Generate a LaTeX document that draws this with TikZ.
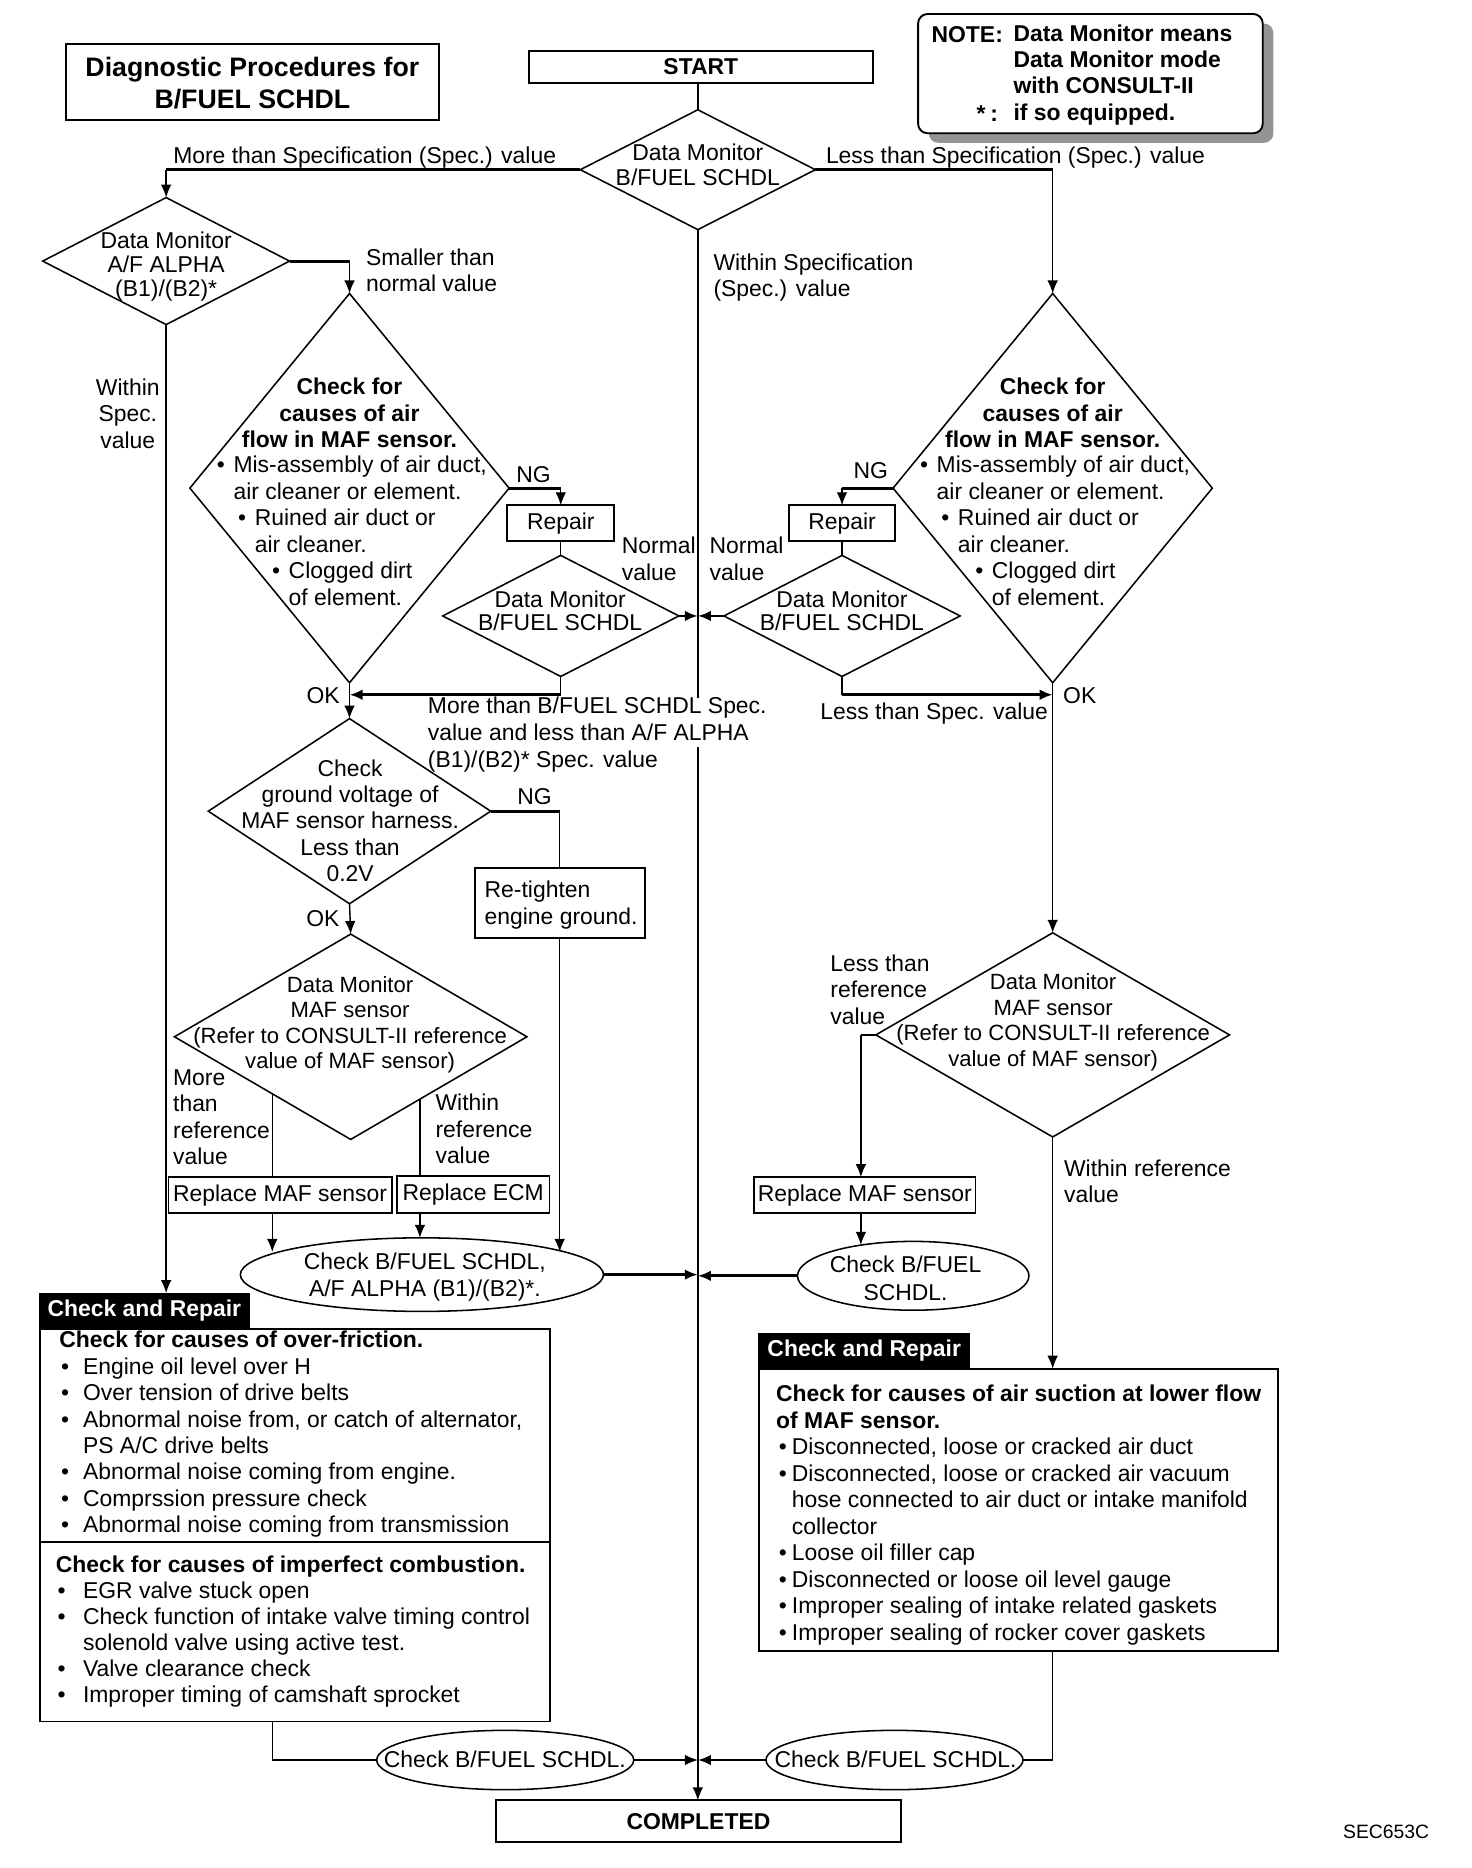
\documentclass[tikz,border=0pt]{standalone}
\usepackage{fontspec}
\setmainfont{Liberation Sans}
\usetikzlibrary{shapes.geometric,arrows.meta,calc}
\newcommand\myfs{\fontsize{19.3}{22.3}\selectfont}
\tikzset{
 shp/.style={draw,line width=1.3pt,inner sep=0pt,outer sep=0pt},
 dia/.style={shp,diamond},
 ell/.style={shp,ellipse},
 bx/.style={draw,line width=1.6pt,inner sep=0pt,outer sep=0pt,font=\myfs},
 tab/.style={fill=black,inner sep=0pt,outer sep=0pt,text=white,font=\bfseries\myfs},
 txt/.style={inner sep=0pt,outer sep=0pt,font=\myfs,align=center,execute at begin node=\strut,execute at end node=\strut},
 txl/.style={txt,align=left,anchor=west},
 vl/.style={line width=1.2pt},
 hl/.style={line width=2.4pt},
 arr/.style={-{Latex[length=11pt,width=9pt]}},
}
\begin{document}
\begin{tikzpicture}[x=1pt,y=-1pt]
\fill[white] (0,0) rectangle (1240,1574);
\useasboundingbox (0,0) rectangle (1240,1574);

% title, start, note
\node[bx,minimum width=314.6pt,minimum height=63.7pt] (title) at (212.7,69.2) {};
\node[txt,font=\bfseries\fontsize{22.5}{26.6}\selectfont] (titlet) at (212.7,73.6) {Diagnostic Procedures for\\B/FUEL SCHDL};
\node[bx,minimum width=290pt,minimum height=27.5pt,font=\bfseries\myfs] (start) at (590.5,56.5) {START};
\node[fill=black!42,rounded corners=8pt,inner sep=0pt,minimum width=290.4pt,minimum height=100.5pt] (noteshadow) at (927.8,70.1) {};
\node[draw,fill=white,line width=1.6pt,rounded corners=8pt,inner sep=0pt,minimum width=290.4pt,minimum height=100.5pt] (note) at (918.8,62.05) {};
\node[txl,font=\bfseries\myfs] (n1) at (785,31) {NOTE:};
\node[txl,font=\bfseries\myfs] (n2) at (854,64.4) {Data Monitor means\\Data Monitor mode\\with CONSULT-II\\if so equipped.};
\node[txl,font=\bfseries\myfs] (n3) at (823,97.9) {*\hspace{4pt}:};

% main diamond
\node[dia,minimum width=198pt,minimum height=101pt] (d1) at (588,143) {};
\node[txt,font=\fontsize{19.3}{21}\selectfont] (d1t) at (588,142.3) {Data Monitor\\B/FUEL SCHDL};
\node[txl] (l1) at (146,133) {More than Specification (Spec.) value};
\node[txl] (l2) at (696,133) {Less than Specification (Spec.) value};
\node[txl] (l4) at (601.2,235.2) {Within Specification\\(Spec.) value};

% A/F diamond
\node[dia,minimum width=208pt,minimum height=107pt] (d2) at (140,220) {};
\node[txt,font=\fontsize{19.3}{20.5}\selectfont] (d2t) at (140,225.6) {Data Monitor\\A/F ALPHA\\(B1)/(B2)*};
\node[txl] (l3) at (308.5,230.9) {Smaller than\\normal value};
\node[txt] (l5) at (107.7,351.7) {Within\\Spec.\\value};

% left check diamond
\node[dia,minimum width=269pt,minimum height=328pt] (d3) at (294.5,411.3) {};
\node[txt,font=\bfseries\myfs] (d3h) at (294.5,351.2) {Check for\\causes of air\\flow in MAF sensor.};
\node[txl] (d3a) at (182.8,405.9) {\makebox[14pt][l]{•}Mis-assembly of air duct,\\\hspace*{14pt}air cleaner or element.};
\node[txl] (d3b) at (200.7,450.4) {\makebox[14pt][l]{•}Ruined air duct or\\\hspace*{14pt}air cleaner.};
\node[txl] (d3c) at (229.3,495.3) {\makebox[14pt][l]{•}Clogged dirt\\\hspace*{14pt}of element.};

% right check diamond
\node[dia,minimum width=269pt,minimum height=328pt] (d6) at (887,411.3) {};
\node[txt,font=\bfseries\myfs] (d6h) at (887,351.2) {Check for\\causes of air\\flow in MAF sensor.};
\node[txl] (d6a) at (775.3,405.9) {\makebox[14pt][l]{•}Mis-assembly of air duct,\\\hspace*{14pt}air cleaner or element.};
\node[txl] (d6b) at (793.2,450.4) {\makebox[14pt][l]{•}Ruined air duct or\\\hspace*{14pt}air cleaner.};
\node[txl] (d6c) at (821.8,495.3) {\makebox[14pt][l]{•}Clogged dirt\\\hspace*{14pt}of element.};

\node[txt] (ng1) at (449.5,401.7) {NG};
\node[txt] (ng2) at (733.8,398.9) {NG};

% repair loops
\node[bx,minimum width=90pt,minimum height=30pt] (repl) at (472.5,440.8) {Repair};
\node[bx,minimum width=90pt,minimum height=30pt] (repr) at (709.5,440.8) {Repair};
\node[dia,minimum width=199pt,minimum height=102pt] (d4) at (472.5,519) {};
\node[txt,font=\fontsize{19.3}{19.5}\selectfont] (d4t) at (472,517.7) {Data Monitor\\B/FUEL SCHDL};
\node[dia,minimum width=199pt,minimum height=102pt] (d7) at (709.5,519) {};
\node[txt,font=\fontsize{19.3}{19.5}\selectfont] (d7t) at (709.4,517.7) {Data Monitor\\B/FUEL SCHDL};
\node[txl] (nv1) at (524,474.3) {Normal\\value};
\node[txl] (nv2) at (598,474.3) {Normal\\value};
\node[txt] (ok1) at (272.2,588.7) {OK};
\node[txt] (ok2) at (909.8,588.4) {OK};
\node[txl] (l7) at (691.3,601.4) {Less than Spec. value};

% ground voltage
\node[dia,minimum width=238pt,minimum height=156pt] (d5) at (294.5,683.5) {};
\node[txt,font=\fontsize{19.3}{22.2}\selectfont] (d5t) at (295,694.8) {Check\\ground voltage of\\MAF sensor harness.\\Less than\\0.2V};
\node[txt] (ng3) at (450.4,673) {NG};
\node[bx,minimum width=143pt,minimum height=59pt] (rt) at (471.6,761.2) {};
\node[txl] (rtt) at (408.4,764) {Re-tighten\\engine ground.};
\node[txt] (ok3) at (272,776) {OK};

% MAF sensor left
\node[dia,minimum width=297pt,minimum height=173pt] (d9) at (295.5,873.6) {};
\node[txt,font=\fontsize{18.6}{21.4}\selectfont] (d9t) at (295,864.7) {Data Monitor\\MAF sensor\\(Refer to CONSULT-II reference\\value of MAF sensor)};
\node[txl] (l8) at (145.9,944.6) {More\\than\\reference\\value};
\node[txl] (l9) at (367,954.4) {Within\\reference\\value};
\node[bx,minimum width=188pt,minimum height=30pt] (rml) at (236,1007) {Replace MAF sensor};
\node[bx,minimum width=128.6pt,minimum height=30.8pt] (ecm) at (398.7,1006.4) {Replace ECM};
\node[ell,minimum width=306pt,minimum height=62pt] (e1) at (355.5,1074) {};
\node[txt] (e1t) at (358,1077.4) {Check B/FUEL SCHDL,\\A/F ALPHA (B1)/(B2)*.};

% MAF sensor right
\node[dia,minimum width=298pt,minimum height=172pt] (d8) at (887,872) {};
\node[txt,font=\fontsize{18.6}{21.4}\selectfont] (d8t) at (887.4,862.7) {Data Monitor\\MAF sensor\\(Refer to CONSULT-II reference\\value of MAF sensor)};
\node[txl] (l10) at (699.7,837.2) {Less than\\reference\\value};
\node[txl] (l11) at (896.6,998.7) {Within reference\\value};
\node[bx,minimum width=186.6pt,minimum height=30.2pt] (rmr) at (728.7,1007) {Replace MAF sensor};
\node[ell,minimum width=195pt,minimum height=58pt] (e2) at (769.5,1075) {};
\node[txt,font=\fontsize{19.3}{23.4}\selectfont] (e2t) at (763,1080.5) {Check B/FUEL\\SCHDL.};

% check and repair left
\node[tab,minimum width=178.1pt,minimum height=30pt] (tabl) at (121.65,1104.6) {Check and Repair};
\node[bx,minimum width=429.8pt,minimum height=330.9pt] (b1) at (248.3,1285.05) {};
\draw[line width=1.3pt] ($(b1.west)+(0,14.25)$) -- ($(b1.east)+(0,14.25)$);
\node[txl] (b1a) at (50,1209.9) {\textbf{Check for causes of over-friction.}\\
\makebox[20pt][l]{\hspace{1.5pt}•}Engine oil level over H\\
\makebox[20pt][l]{\hspace{1.5pt}•}Over tension of drive belts\\
\makebox[20pt][l]{\hspace{1.5pt}•}Abnormal noise from, or catch of alternator,\\
\hspace*{20pt}PS A/C drive belts\\
\makebox[20pt][l]{\hspace{1.5pt}•}Abnormal noise coming from engine.\\
\makebox[20pt][l]{\hspace{1.5pt}•}Comprssion pressure check\\
\makebox[20pt][l]{\hspace{1.5pt}•}Abnormal noise coming from transmission};
\node[txl,font=\fontsize{19.3}{22}\selectfont] (b1b) at (47,1375.9) {\textbf{Check for causes of imperfect combustion.}\\
\makebox[23pt][l]{\hspace{1.5pt}•}EGR valve stuck open\\
\makebox[23pt][l]{\hspace{1.5pt}•}Check function of intake valve timing control\\
\hspace*{23pt}solenold valve using active test.\\
\makebox[23pt][l]{\hspace{1.5pt}•}Valve clearance check\\
\makebox[23pt][l]{\hspace{1.5pt}•}Improper timing of camshaft sprocket};

% check and repair right
\node[tab,minimum width=178.6pt,minimum height=30pt] (tabr) at (728.2,1138.3) {Check and Repair};
\node[bx,minimum width=436.8pt,minimum height=238.2pt] (br) at (858.1,1272.4) {};
\node[txl] (bra) at (654,1277.9) {\textbf{Check for causes of air suction at lower flow}\\
\textbf{of MAF sensor.}\\
\makebox[13.3pt][l]{\hspace{2.2pt}•}Disconnected, loose or cracked air duct\\
\makebox[13.3pt][l]{\hspace{2.2pt}•}Disconnected, loose or cracked air vacuum\\
\hspace*{13.3pt}hose connected to air duct or intake manifold\\
\hspace*{13.3pt}collector\\
\makebox[13.3pt][l]{\hspace{2.2pt}•}Loose oil filler cap\\
\makebox[13.3pt][l]{\hspace{2.2pt}•}Disconnected or loose oil level gauge\\
\makebox[13.3pt][l]{\hspace{2.2pt}•}Improper sealing of intake related gaskets\\
\makebox[13.3pt][l]{\hspace{2.2pt}•}Improper sealing of rocker cover gaskets};

% bottom
\node[ell,minimum width=216.6pt,minimum height=50pt] (e3) at (425.7,1483) {};
\node[txt] (e3t) at (425.4,1485.1) {Check B/FUEL SCHDL.};
\node[ell,minimum width=216.6pt,minimum height=50pt] (e4) at (753.7,1483) {};
\node[txt] (e4t) at (754.6,1485.1) {Check B/FUEL SCHDL.};
\node[bx,minimum width=341pt,minimum height=35pt,font=\bfseries\myfs] (comp) at (588.5,1534.5) {COMPLETED};
\node[txt,font=\fontsize{16.3}{19}\selectfont] (sec) at (1168,1545) {SEC653C};

% ---------- connectors ----------
\draw[vl] (d1.north |- start.south) -- (d1.north);
\draw[hl] (d1.west) -- (d1.west -| d2.north);
\draw[vl,arr] (d1.west -| d2.north) -- (d2.north);
\draw[hl] (d1.east) -- (d1.east -| d6.north);
\draw[vl,arr] (d1.east -| d6.north) -- (d6.north);
\draw[hl] (d2.east) -- (d2.east -| d3.north);
\draw[vl,arr] (d2.east -| d3.north) -- (d3.north);
\draw[hl] (d3.east) -- (d3.east -| repl.north);
\draw[vl,arr] (d3.east -| repl.north) -- (repl.north);
\draw[vl] (repl.south) -- (d4.north);
\draw[hl,arr] (d4.east) -- (d4.east -| d1.south);
\coordinate (okl) at ($(d4.south)+(0,15.4)$);
\draw[vl] (d4.south) -- (okl);
\draw[hl,arr] (okl) -- (okl -| d3.south);
\draw[vl,arr] (d3.south) -- (d5.north);
\draw[hl] (d5.east) -- (d5.east -| rt.north);
\draw[vl] (d5.east -| rt.north) -- (rt.north);
\draw[vl,arr] (rt.south) -- (rt.south |- e1.9.87);
\draw[vl,arr] (d5.south) -- (d9.north);
\draw[vl] (d9.216.43) -- (d9.216.43 |- rml.north);
\draw[vl,arr] (d9.216.43 |- rml.south) -- (d9.216.43 |- e1.171.96);
\draw[vl] (d9.318.94) -- (d9.318.94 |- ecm.north);
\draw[vl,arr] (d9.318.94 |- ecm.south) -- (d9.318.94 |- e1.north);
\draw[hl,arr] (e1.east) -- (e1.east -| d1.south);
\draw[vl,arr] (d2.south) -- (d2.south |- tabl.north);
\draw[vl] (d9.216.43 |- b1.south) |- (e3.west);
\draw[vl,arr] (e3.east) -- (e3.east -| d1.south);
\draw[vl,arr] (d1.south) -- (d1.south |- comp.north);

\draw[hl] (d6.west) -- (d6.west -| repr.north);
\draw[vl,arr] (d6.west -| repr.north) -- (repr.north);
\draw[vl] (repr.south) -- (d7.north);
\draw[hl,arr] (d7.west) -- (d7.west -| d1.south);
\coordinate (okr) at ($(d7.south)+(0,15.4)$);
\draw[vl] (d7.south) -- (okr);
\draw[hl,arr] (okr) -- (okr -| d6.south);
\draw[vl,arr] (d6.south) -- (d8.north);
\coordinate (mrx) at ($(rmr.north)+(-3.3,0)$);
\draw[vl] (d8.west) -- (d8.west -| mrx);
\draw[vl,arr] (d8.west -| mrx) -- (mrx);
\draw[vl,arr] (mrx |- rmr.south) -- (mrx |- e2.149.6);
\draw[hl,arr] (e2.west) -- (e2.west -| d1.south);
\draw[vl,arr] (d8.south) -- (d8.south |- br.north);
\draw[vl] (d8.south |- br.south) |- (e4.east);
\draw[hl,arr] (e4.west) -- (e4.west -| d1.south);

% label that covers the centre line (drawn last, white background)
\node[txl,fill=white,inner ysep=-1pt] (l6a) at (360.6,608.9) {More than B/FUEL SCHDL Spec.\\value and less than A/F ALPHA};
\node[txl] (l6b) at (360.6,642.2) {(B1)/(B2)* Spec. value};
\end{tikzpicture}
\end{document}
